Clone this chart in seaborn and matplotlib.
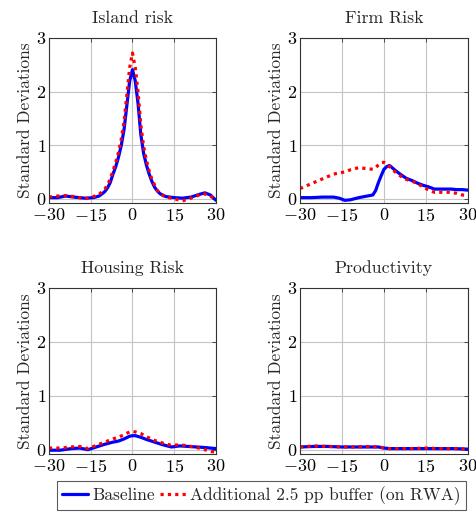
import matplotlib
matplotlib.use("Agg")
import matplotlib.pyplot as plt
import seaborn as sns
import numpy as np
import pandas as pd

# ---- data ----
island_x = [-30, -27, -24, -21, -17, -14, -12, -10, -9, -8, -7, -6, -5, -4, -3, -2, -1, 0,
            1, 2, 3, 4, 5, 6, 7, 8, 9, 10, 12, 15, 18, 21, 24, 26, 28, 30]
island_base = [0.02, 0.02, 0.05, 0.03, 0.01, 0.02, 0.05, 0.13, 0.2, 0.3, 0.46, 0.6, 0.78, 1.0, 1.3,
               1.75, 2.2, 2.41, 2.2, 1.78, 1.2, 0.85, 0.63, 0.46, 0.32, 0.21, 0.14, 0.09, 0.04,
               0.02, 0.01, 0.03, 0.08, 0.11, 0.07, -0.03]
island_buf = [0.03, 0.05, 0.06, 0.04, 0.0, 0.04, 0.08, 0.18, 0.25, 0.37, 0.52, 0.68, 0.87, 1.12, 1.45,
              1.95, 2.45, 2.72, 2.45, 2.0, 1.38, 0.98, 0.72, 0.52, 0.36, 0.25, 0.15, 0.09, 0.03,
              0.0, -0.04, 0.01, 0.07, 0.09, 0.05, -0.02]

firm_x = [-30, -26, -22, -18, -16, -14, -12, -9, -6, -4, -3, -2, -1, 0, 1, 2, 4, 6, 8,
          10, 12, 14, 16, 18, 20, 22, 24, 26, 28, 30]
firm_base = [0.02, 0.02, 0.03, 0.03, 0.01, -0.03, -0.02, 0.02, 0.05, 0.07, 0.15, 0.3, 0.43, 0.55, 0.6,
             0.62, 0.53, 0.45, 0.38, 0.34, 0.29, 0.25, 0.22, 0.18, 0.18, 0.18, 0.18, 0.17, 0.17, 0.16]
firm_buf = [0.19, 0.28, 0.37, 0.46, 0.48, 0.5, 0.54, 0.58, 0.56, 0.55, 0.58, 0.63, 0.67, 0.68, 0.65,
            0.6, 0.5, 0.42, 0.36, 0.33, 0.28, 0.22, 0.16, 0.12, 0.12, 0.12, 0.12, 0.1, 0.07, 0.06]

housing_x = [-30, -26, -22, -19, -16, -13, -10, -7, -5, -3, -1, 0, 1, 3, 5, 8, 11, 14,
             17, 20, 23, 26, 28, 30]
housing_base = [-0.01, -0.01, 0.02, 0.03, 0.0, 0.05, 0.1, 0.14, 0.16, 0.2, 0.25, 0.26, 0.26, 0.23,
                0.19, 0.14, 0.09, 0.05, 0.07, 0.06, 0.05, 0.04, 0.03, 0.02]
housing_buf = [0.03, 0.03, 0.05, 0.06, 0.02, 0.08, 0.14, 0.2, 0.23, 0.28, 0.33, 0.34, 0.33, 0.3,
               0.24, 0.17, 0.12, 0.08, 0.09, 0.07, 0.04, 0.0, -0.03, -0.05]

prod_x = [-30, -25, -20, -15, -10, -5, -2, 0, 2, 5, 10, 15, 20, 25, 30]
prod_base = [0.05, 0.06, 0.06, 0.05, 0.05, 0.05, 0.05, 0.03, 0.02, 0.02, 0.02, 0.02, 0.02, 0.02, 0.01]
prod_buf = [0.05, 0.07, 0.06, 0.05, 0.05, 0.06, 0.05, 0.03, 0.02, 0.02, 0.02, 0.03, 0.02, 0.02, 0.01]

titles = ["Island risk", "Firm Risk", "Housing Risk", "Productivity"]
series_names = ["Baseline", "Additional 2.5 pp buffer (on RWA)"]
xticks = [-30, -15, 0, 15, 30]
yticks = [0, 1, 2, 3]

panels = [
    (island_x, island_base, island_buf),
    (firm_x, firm_base, firm_buf),
    (housing_x, housing_base, housing_buf),
    (prod_x, prod_base, prod_buf),
]

sns.set_style("whitegrid")
plt.rcParams["font.family"] = ["cmr10"]
plt.rcParams["mathtext.fontset"] = "cm"
plt.rcParams["axes.formatter.use_mathtext"] = True

fig = plt.figure(figsize=(4.77, 5.12), dpi=100)
positions = [
    [0.1027, 0.6035, 0.350, 0.3223],
    [0.629, 0.6035, 0.352, 0.3223],
    [0.1027, 0.1133, 0.350, 0.3242],
    [0.629, 0.1133, 0.352, 0.3242],
]

for pos, title, (x, base, buf) in zip(positions, titles, panels):
    ax = fig.add_axes(pos)
    df = pd.DataFrame({"x": x, "base": base, "buf": buf})
    sns.lineplot(data=df, x="x", y="base", ax=ax, color=(0, 0, 1), lw=2.3,
                 label=series_names[0], legend=False)
    sns.lineplot(data=df, x="x", y="buf", ax=ax, color=(1, 0, 0), lw=2.3,
                 linestyle=(0, (1, 1.3)), label=series_names[1], legend=False)
    ax.set_xlim(-30, 30)
    ax.set_ylim(-0.08, 3)
    ax.set_xticks(xticks)
    ax.set_yticks(yticks)
    ax.grid(True, color="#c4c4c4", lw=0.8)
    for s in ax.spines.values():
        s.set_color("#333333")
        s.set_linewidth(0.8)
    ax.tick_params(direction="in", length=3, width=0.6, labelsize=13, pad=2,
                   top=True, right=True, colors="#333333", labelcolor="black")
    ax.tick_params(axis="x", pad=3)
    ax.set_title(title, fontsize=12.8, pad=11)
    ax.set_xlabel("")
    ax.set_ylabel("Standard Deviations", fontsize=12.5, labelpad=2)

handles, labels = fig.axes[0].get_legend_handles_labels()
leg = fig.legend(handles, labels, loc="lower center", ncol=2, bbox_to_anchor=(0.548, -0.014),
                 fontsize=12.5, frameon=True, fancybox=False, edgecolor="#333333",
                 handlelength=1.5, handletextpad=0.25, columnspacing=0.3,
                 borderpad=0.3)
leg.get_frame().set_linewidth(0.8)

fig.savefig("out.png", dpi=100)
